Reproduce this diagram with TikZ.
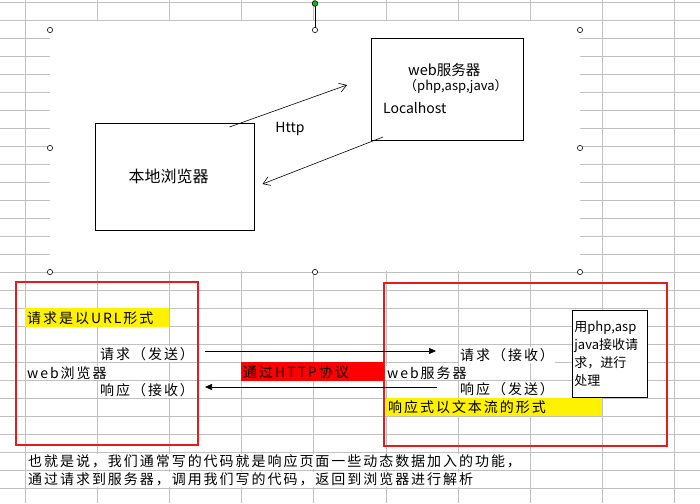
\documentclass[tikz,border=0pt]{standalone}
\usepackage{fontspec}
\newfontfamily\cjk{Noto Sans CJK SC}
\newfontfamily\cjkwide[LetterSpace=14]{Noto Sans CJK SC}
\usetikzlibrary{arrows.meta,positioning}
\definecolor{gridgray}{RGB}{192,192,192}
\definecolor{framered}{RGB}{228,28,28}

\begin{document}
\begin{tikzpicture}[x=1pt,y=-1pt,
    font=\cjkwide\fontsize{14}{18}\selectfont,
    >={Straight Barb[length=7pt,width=9pt]}]
    \tikzset{sheetbox/.style={draw,rectangle,line width=0.8pt,inner sep=0pt}}
    \tikzset{cell/.style={anchor=west,inner xsep=1pt,inner ysep=1pt,fill=white}}
    \tikzset{hilite/.style={anchor=west,inner xsep=2pt,inner ysep=0pt,minimum height=18.5pt,text depth=0pt}}
    \tikzset{frame/.style={draw=framered,line width=2.4pt,rectangle,inner sep=0pt}}
    \tikzset{handle/.style={draw,fill=white,line width=0.6pt}}
    \useasboundingbox (0,0) rectangle (700,503);
    \foreach \gx in {0,...,9}
      \draw[gridgray,line width=0.8pt] ({25+72.2*\gx},0) -- ({25+72.2*\gx},503);
    \foreach \gy in {0,...,27}
      \draw[gridgray,line width=0.8pt] (0,{2+18*\gy}) -- (700,{2+18*\gy});
    \fill[white] (50,21) rectangle (580,271);

    \draw[line width=0.6pt] (315,5) -- (315,28);
    \draw[handle,fill=green!75!black] (315,3.5) circle (2.8pt);
    \foreach \hx/\hy in {50/30,315/30,580/30,50/148,580/148,50/272,315/272,580/272}
      \draw[handle] (\hx,\hy) circle (2.6pt);

    \node[sheetbox,minimum width=159pt,minimum height=107pt] (browser) at (174.5,176.5) {};
    \node[font=\cjk\fontsize{16}{18}\selectfont] (browserlabel) at (168.5,176) {本地浏览器};
    \node[sheetbox,minimum width=152pt,minimum height=102pt] (server) at (447,89) {};
    \node[anchor=west,inner sep=0pt,font=\cjk\fontsize{14.5}{18}\selectfont] (servername) at (408,70) {web服务器};
    \node[anchor=west,inner sep=0pt,font=\cjk\fontsize{13}{18}\selectfont] (serverlang) at (404,87) {（php,asp,java）};
    \node[anchor=west,inner sep=0pt,font=\cjk\fontsize{14}{18}\selectfont] (localhost) at (383,108) {Localhost};
    \node[font=\cjk\fontsize{14}{18}\selectfont] (httplabel) at (290,129) {Http};
    \coordinate (reqtail) at (229.5,127);
    \coordinate (reqhead) at (347,85);
    \coordinate (resptail) at (383,137);
    \coordinate (resphead) at (262.5,184);
    \path[->,line width=0.6pt]
    (reqtail) edge (reqhead)
    (resptail) edge (resphead);

    \node[frame,minimum width=182pt,minimum height=163pt] (clientframe) at (107,363.5) {};
    \node[frame,minimum width=283pt,minimum height=163pt] (serverframe) at (525.5,364.5) {};

    \node[hilite,fill=yellow,text width=140pt] (urlnote) at (25,317.5) {请求是以URL形式};
    \node[cell] (clientsend) at (99,354) {请求（发送）};
    \node[cell] (clientname) at (26,373) {web浏览器};
    \node[cell] (clientrecv) at (99,390) {响应（接收）};
    \node[hilite,fill=red,text width=139pt] (protocol) at (241,371.5) {通过HTTP协议};
    \node[cell] (servername2) at (386,373) {web服务器};
    \node[cell] (serverrecv) at (459,355) {请求（接收）};
    \node[cell] (serversend) at (459,389) {响应（发送）};
    \node[hilite,fill=yellow,text width=212pt] (streamnote) at (386,407) {响应式以文本流的形式};
    \node[draw,fill=white,anchor=north west,text width=71pt,minimum height=87pt,
      inner xsep=2pt,inner ysep=3pt,align=left,line width=0.8pt,
      font=\cjk\fontsize{13}{18}\selectfont] (handler) at (572,310)
      {用php,asp\\java接收请\\求，进行\\处理};
    \coordinate (sendtail) at (205,351);
    \coordinate (sendhead) at (436,351);
    \coordinate (recvtail) at (437,387);
    \coordinate (recvhead) at (205,387);
    \path[-{Triangle[length=7pt,width=6pt]},line width=0.7pt]
    (sendtail) edge (sendhead)
    (recvtail) edge (recvhead);

    \node[cell] (summary1) at (27,461.5) {也就是说，我们通常写的代码就是响应页面一些动态数据加入的功能，};
    \node[cell] (summary2) at (27,479.5) {通过请求到服务器，调用我们写的代码，返回到浏览器进行解析};
\end{tikzpicture}
\end{document}
